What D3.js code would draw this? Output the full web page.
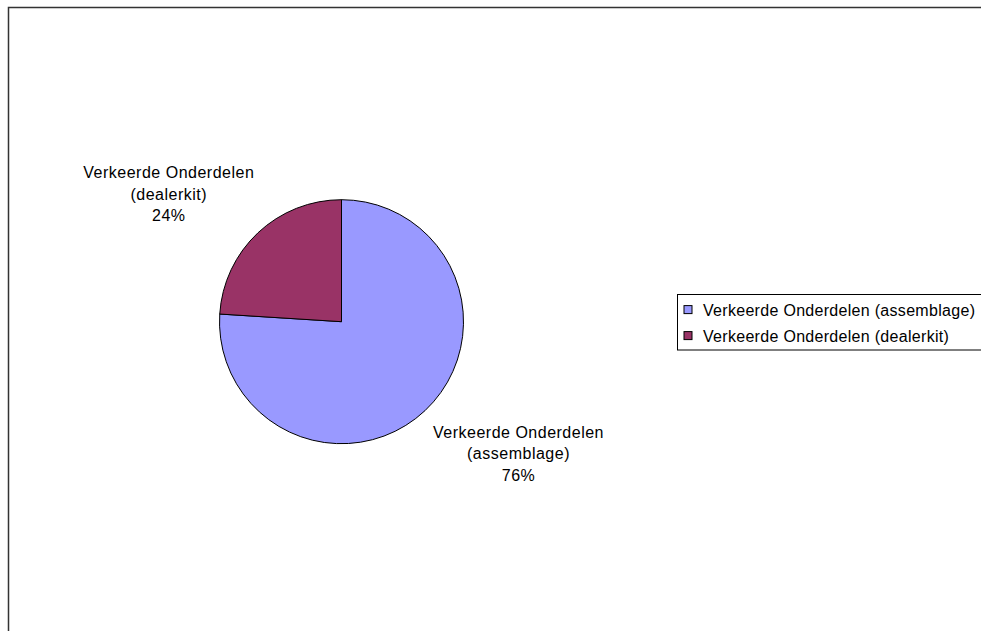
<!DOCTYPE html>
<html>
<head>
<meta charset="utf-8">
<script src="https://cdn.jsdelivr.net/npm/d3@7"></script>
<style>
  html, body { margin: 0; padding: 0; background: #fff; }
  svg { display: block; }
  text { font-family: "Liberation Sans", Arial, sans-serif; fill: #000; }
</style>
</head>
<body>
<svg id="chart" width="981" height="631"></svg>
<script>
// Data
const categories = ["Verkeerde Onderdelen (assemblage)", "Verkeerde Onderdelen (dealerkit)"];
const labelLines = [["Verkeerde Onderdelen", "(assemblage)"], ["Verkeerde Onderdelen", "(dealerkit)"]];
const values = [76, 24];
const colors = ["#9999FF", "#993366"];

const svg = d3.select("#chart");
const W = 981, H = 631;

// Outer chart frame (runs off the right and bottom edges)
svg.append("rect")
  .attr("x", 8.5).attr("y", 7.5)
  .attr("width", W + 20).attr("height", H + 20)
  .attr("fill", "#fff")
  .attr("stroke", "#333").attr("stroke-width", 1.5);

// Pie
const cx = 341.5, cy = 321.7, r = 122;
const total = d3.sum(values);
const pie = d3.pie().sort(null).value(d => d)(values);
const arc = d3.arc().innerRadius(0).outerRadius(r);

const g = svg.append("g").attr("transform", `translate(${cx},${cy})`);
g.selectAll("path.slice")
  .data(pie)
  .join("path")
  .attr("class", "slice")
  .attr("d", arc)
  .attr("fill", (d, i) => colors[i])
  .attr("stroke", "#000")
  .attr("stroke-width", 1);

// Data labels: category name + percentage, placed outside each slice
const labelPos = [[518.5, 437.7], [168.8, 178.3]]; // baseline of first line
const lineH = 21.4;
pie.forEach((d, i) => {
  const pct = Math.round(values[i] / total * 100) + "%";
  const lines = labelLines[i].concat([pct]);
  const t = svg.append("text")
    .attr("text-anchor", "middle")
    .attr("font-size", 16)
    .attr("letter-spacing", 0.5);
  lines.forEach((s, k) => {
    t.append("tspan")
      .attr("x", labelPos[i][0])
      .attr("y", labelPos[i][1] + k * lineH)
      .text(s);
  });
});

// Legend
const lx = 677.5, ly = 294.5, lh = 55.5;
const legend = svg.append("g");
legend.append("rect")
  .attr("x", lx).attr("y", ly)
  .attr("width", 320).attr("height", lh)
  .attr("fill", "#fff")
  .attr("stroke", "#000").attr("stroke-width", 1);
const rowY = d3.scalePoint().domain(d3.range(categories.length)).range([315.6, 341.6]);
categories.forEach((c, i) => {
  const base = rowY(i);
  legend.append("rect")
    .attr("x", 684).attr("y", base - 10)
    .attr("width", 8).attr("height", 8)
    .attr("fill", colors[i])
    .attr("stroke", "#000").attr("stroke-width", 1);
  legend.append("text")
    .attr("x", 703).attr("y", base)
    .attr("font-size", 16)
    .attr("letter-spacing", 0.3)
    .text(c);
});
</script>
</body>
</html>
